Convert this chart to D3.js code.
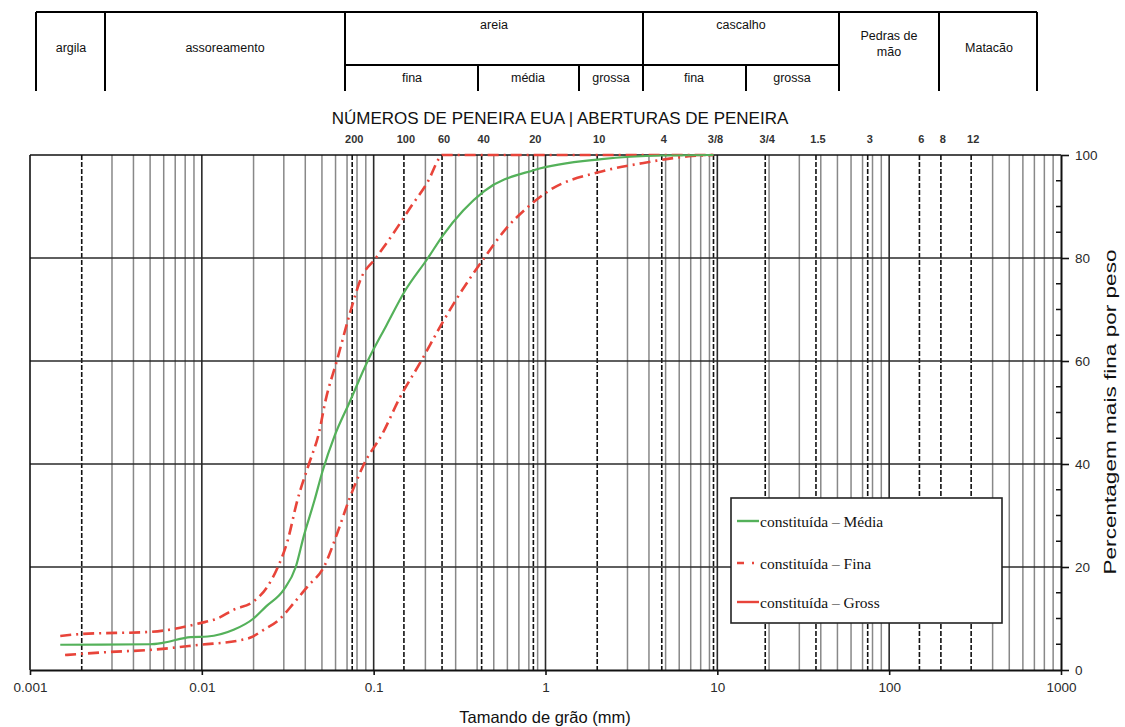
<!DOCTYPE html>
<html>
<head>
<meta charset="utf-8">
<script src="https://cdn.jsdelivr.net/npm/d3@7"></script>
<style>
  html, body { margin: 0; padding: 0; background: #fff; }
  svg { display: block; font-family: "Liberation Sans", Arial, sans-serif; }
</style>
</head>
<body>
<svg id="chart" width="1125" height="727"></svg>
<script>
// ---------- DATA ----------
const seriesNames = ["constituída – Média", "constituída – Fina", "constituída – Gross"];

// grain size (mm) and percent finer
const mediaSize = [0.0015, 0.005, 0.006, 0.0086, 0.0108, 0.0153, 0.020, 0.0236, 0.030, 0.0352, 0.0392, 0.0453, 0.0503, 0.0593, 0.0724, 0.0923, 0.119, 0.1514, 0.207, 0.253, 0.44, 0.863, 2.12, 4.76, 9.5];
const mediaPct  = [4.9,    5.0,   5.3,   6.4,    6.5,    7.8,    10.0,  12.3,   15.6,  20.0,   26.0,   33.0,   38.5,   45.5,   52.0,   60.0,   67.0,  73.5,   80.0,  84.4,  93.0, 97.1,  99.2, 99.9, 100];

const finaSize = [0.0015, 0.002, 0.005, 0.0098, 0.0123, 0.0153, 0.020, 0.0241, 0.0277, 0.0315, 0.036, 0.042, 0.048, 0.0527, 0.061, 0.0738, 0.0843, 0.103, 0.1315, 0.165, 0.208, 0.241, 0.25, 9.5];
const finaPct  = [6.6,    7.0,   7.4,   9.1,    10.0,   11.7,   13.3,  16.2,   20.0,   25.0,   33.0,  40.0,  46.0,  52.6,   60.0,  70.0,   76.0,   80.0,  85.0,   90.0,  95.0,  99.4,  100, 100];

const grossSize = [0.0016, 0.0029, 0.005, 0.0098, 0.0168, 0.0192, 0.0229, 0.028, 0.0343, 0.0412, 0.0513, 0.0616, 0.0718, 0.0879, 0.113, 0.1406, 0.189, 0.247, 0.303, 0.44, 0.593, 0.796, 1.04, 2.12, 3.64, 7.13, 9.5];
const grossPct  = [2.9,    3.5,    3.9,   4.9,    5.8,    6.3,    7.8,    9.7,   13.0,   16.2,   20.0,   26.7,   33.0,   40.0,   46.0,  52.6,   60.0,  67.0,  72.0,  80.0, 85.8,  90.0,  93.0, 96.8, 98.4, 99.8, 100];

// axes / ticks
const xTickValues = [0.001, 0.01, 0.1, 1, 10, 100, 1000];
const xTickLabels = ["0.001", "0.01", "0.1", "1", "10", "100", "1000"];
const yTickValues = [0, 20, 40, 60, 80, 100];
const yMinorValues = [5, 10, 15, 25, 30, 35, 45, 50, 55, 65, 70, 75, 85, 90, 95];

// US sieve numbers / openings (mm)
const sieveSizes  = [0.075, 0.15, 0.25, 0.425, 0.85, 2.0, 4.75, 9.5, 19, 37.5, 75, 150, 200, 300];
const sieveLabels = ["200", "100", "60", "40", "20", "10", "4", "3/8", "3/4", "1.5", "3", "6", "8", "12"];
const extraDashed = [0.002];

// classification table
const tableTop = ["argila", "assoreamento", "areia", "cascalho", "Pedras de mão", "Matacão"];
const tableSub = ["fina", "média", "grossa", "fina", "grossa"];

// ---------- LAYOUT ----------
const pL = 30, pR = 1061, pT = 155, pB = 670;
const svg = d3.select("#chart");

const x = d3.scaleLog().domain([0.001, 1000]).range([pL, pR]);
const y = d3.scaleLinear().domain([0, 100]).range([pB, pT]);

const GREEN = "#54b15a", RED = "#e8443a";

// ---------- GRID ----------
const g = svg.append("g");
const minor = [];
for (let e = -3; e < 3; e++) for (let m = 2; m <= 9; m++) minor.push(m * Math.pow(10, e));
const dashedSet = sieveSizes.concat(extraDashed);
g.selectAll("line.minor").data(minor.filter(v => !dashedSet.some(s => Math.abs(Math.log10(s) - Math.log10(v)) < 1e-6)))
  .join("line").attr("class", "minor")
  .attr("x1", d => x(d)).attr("x2", d => x(d)).attr("y1", pT).attr("y2", pB)
  .attr("stroke", "#888").attr("stroke-width", 1.5);
g.selectAll("line.dec").data([0.01, 0.1, 1, 10, 100])
  .join("line").attr("class", "dec")
  .attr("x1", d => x(d)).attr("x2", d => x(d)).attr("y1", pT).attr("y2", pB)
  .attr("stroke", "#2a2a2a").attr("stroke-width", 1.6);
g.selectAll("line.sieve").data(dashedSet)
  .join("line").attr("class", "sieve")
  .attr("x1", d => x(d)).attr("x2", d => x(d)).attr("y1", pT).attr("y2", pB)
  .attr("stroke", "#111").attr("stroke-width", 1.6).attr("stroke-dasharray", "5,2");
g.selectAll("line.h").data([20, 40, 60, 80])
  .join("line").attr("class", "h")
  .attr("x1", pL).attr("x2", pR).attr("y1", d => y(d)).attr("y2", d => y(d))
  .attr("stroke", "#2a2a2a").attr("stroke-width", 1.6);

// ---------- AXES ----------
const axisColor = "#111";
svg.append("line").attr("x1", pL).attr("x2", pR).attr("y1", pT).attr("y2", pT).attr("stroke", axisColor).attr("stroke-width", 1.6);
svg.append("line").attr("x1", pL).attr("x2", pL).attr("y1", pT).attr("y2", pB).attr("stroke", axisColor).attr("stroke-width", 1.6);

const xAxis = d3.axisBottom(x).tickValues(xTickValues).tickFormat((d, i) => xTickLabels[i]).tickSize(5).tickSizeOuter(0);
const xg = svg.append("g").attr("transform", `translate(0,${pB})`).call(xAxis);
xg.select(".domain").attr("stroke", axisColor).attr("stroke-width", 2);
xg.selectAll(".tick line").attr("stroke", axisColor).attr("stroke-width", 1.6);
xg.selectAll("text").attr("font-size", 13.5).attr("fill", "#2a2a2a").attr("font-family", "Liberation Sans, Arial, sans-serif").attr("dy", "1.05em");

const yAxis = d3.axisRight(y).tickValues(yTickValues).tickSize(8).tickSizeOuter(0);
const yg = svg.append("g").attr("transform", `translate(${pR},0)`).call(yAxis);
yg.select(".domain").attr("stroke", axisColor).attr("stroke-width", 2);
yg.selectAll(".tick line").attr("stroke", axisColor).attr("stroke-width", 1.6);
yg.selectAll("text").attr("font-size", 13.5).attr("fill", "#2a2a2a").attr("x", 14).attr("font-family", "Liberation Sans, Arial, sans-serif");
svg.append("g").selectAll("line").data(yMinorValues).join("line")
  .attr("x1", pR - 5).attr("x2", pR).attr("y1", d => y(d)).attr("y2", d => y(d))
  .attr("stroke", axisColor).attr("stroke-width", 1.5);

// sieve labels on top
svg.append("g").selectAll("text").data(sieveSizes).join("text")
  .attr("x", d => x(d) + 2).attr("y", pT - 12)
  .attr("text-anchor", "middle").attr("font-size", 11).attr("font-weight", "bold").attr("fill", "#333")
  .text((d, i) => sieveLabels[i]);

// titles
svg.append("text").attr("x", 560).attr("y", 124).attr("text-anchor", "middle")
  .attr("font-size", 17).attr("fill", "#111").text("NÚMEROS DE PENEIRA EUA | ABERTURAS DE PENEIRA");
svg.append("text").attr("x", 545).attr("y", 723).attr("text-anchor", "middle")
  .attr("font-size", 16.5).attr("fill", "#111").text("Tamando de grão (mm)");
svg.append("text").attr("transform", `translate(1116,412) rotate(-90)`).attr("text-anchor", "middle")
  .attr("font-size", 16.5).attr("fill", "#111")
  .attr("textLength", 325).attr("lengthAdjust", "spacingAndGlyphs")
  .text("Percentagem mais fina por peso");

// ---------- CURVES ----------
const line = d3.line().x(d => x(d[0])).y(d => y(d[1])).curve(d3.curveMonotoneX);
const zip = (a, b) => a.map((v, i) => [v, b[i]]);
svg.append("path").datum(zip(finaSize, finaPct)).attr("d", line)
  .attr("fill", "none").attr("stroke", RED).attr("stroke-width", 2.6).attr("stroke-dasharray", "11,5,2,5");
svg.append("path").datum(zip(grossSize, grossPct)).attr("d", line)
  .attr("fill", "none").attr("stroke", RED).attr("stroke-width", 2.6).attr("stroke-dasharray", "11,5,2,5");
svg.append("path").datum(zip(mediaSize, mediaPct)).attr("d", line)
  .attr("fill", "none").attr("stroke", GREEN).attr("stroke-width", 2.2);

// ---------- LEGEND ----------
const lg = svg.append("g");
lg.append("rect").attr("x", 731).attr("y", 498).attr("width", 271).attr("height", 125)
  .attr("fill", "#fff").attr("stroke", "#222").attr("stroke-width", 1.6);
const legendStyles = [
  { color: GREEN, dash: null },
  { color: RED, dash: "7,8,2,20" },
  { color: RED, dash: null }
];
const legendY = [521, 563, 602];
seriesNames.forEach((name, i) => {
  lg.append("line").attr("x1", 737).attr("x2", 759).attr("y1", legendY[i]).attr("y2", legendY[i])
    .attr("stroke", legendStyles[i].color).attr("stroke-width", 2.4)
    .attr("stroke-dasharray", legendStyles[i].dash);
  lg.append("text").attr("x", 760).attr("y", legendY[i] + 5.5)
    .attr("font-family", "Liberation Serif, Times New Roman, serif").attr("font-size", 15.5).attr("fill", "#111")
    .text(name);
});

// ---------- TABLE ----------
const tg = svg.append("g");
function L(x1, y1, x2, y2) {
  tg.append("line").attr("x1", x1).attr("y1", y1).attr("x2", x2).attr("y2", y2)
    .attr("stroke", "#000").attr("stroke-width", 2);
}
const tTop = 12, tMid = 65, tBot = 91;
L(36, tTop, 1037, tTop);
L(345, tMid, 839, tMid);
[36, 105, 345, 643, 839, 939, 1037].forEach(v => L(v, tTop, v, tBot));
[478, 579, 746].forEach(v => L(v, tMid, v, tBot));
function T(txt, cx, cy) {
  tg.append("text").attr("x", cx).attr("y", cy).attr("text-anchor", "middle")
    .attr("font-size", 12.5).attr("fill", "#111").text(txt);
}
T(tableTop[0], 71, 52);
T(tableTop[1], 225, 52);
T(tableTop[2], 494, 29);
T(tableTop[3], 741, 29);
T("Pedras de", 889, 40);
T("mão", 889, 56);
T(tableTop[5], 989, 52);
T(tableSub[0], 412, 82);
T(tableSub[1], 528, 82);
T(tableSub[2], 611, 82);
T(tableSub[3], 694, 82);
T(tableSub[4], 792, 82);
</script>
</body>
</html>
